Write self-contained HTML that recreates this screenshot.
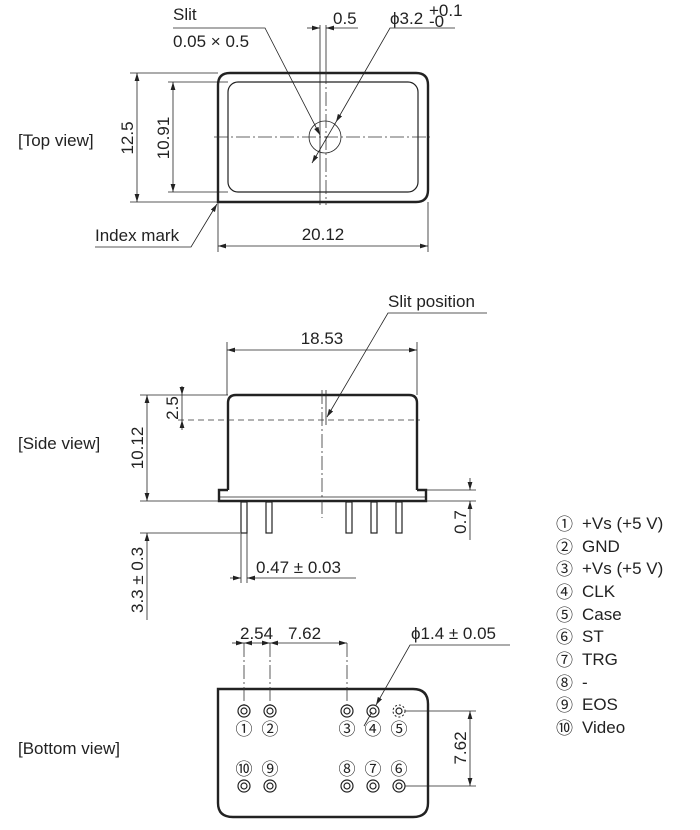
<!DOCTYPE html>
<html><head><meta charset="utf-8"><style>
body{margin:0;background:#fff}
svg{display:block}
text{font-family:"Liberation Sans","DejaVu Sans",sans-serif;fill:#222;font-size:17px}
.t{stroke:#222;stroke-width:0.8;fill:none}
.k{stroke:#222;stroke-width:2.4;fill:none}
.m{stroke:#222;stroke-width:1.2;fill:none}
.c{stroke:#333;stroke-width:0.8;fill:none;stroke-dasharray:14 3 2 3}
.d{stroke:#333;stroke-width:0.8;fill:none;stroke-dasharray:6 4}
.n text{font-family:"Noto Sans CJK JP","Noto Sans CJK SC",sans-serif;font-size:17px}
</style></head><body>
<svg width="700" height="830" viewBox="0 0 700 830" xmlns="http://www.w3.org/2000/svg">
<defs>
<marker id="a" viewBox="0 0 10 10" refX="10" refY="5" markerWidth="8" markerHeight="8" orient="auto-start-reverse" markerUnits="userSpaceOnUse"><path d="M0,2 L10,5 L0,8 z" fill="#222"/></marker>
</defs>

<!-- TOP VIEW -->
<text x="18" y="146" font-size="18">[Top view]</text>
<path class="k" d="M218,202 L218,85 Q218,73 230,73 L416,73 Q428,73 428,85 L428,190 Q428,202 416,202 Z"/>
<rect class="m" x="228" y="82" width="190" height="110" rx="10"/>
<circle class="t" cx="325" cy="137" r="16"/>
<line class="c" x1="214" y1="137" x2="430" y2="137"/>
<line class="t" x1="320" y1="25" x2="320" y2="205"/>
<line class="t" x1="326" y1="25" x2="326" y2="70"/>
<line class="c" x1="326" y1="70" x2="326" y2="205"/>
<line class="t" x1="130" y1="73" x2="218" y2="73"/>
<line class="t" x1="130" y1="202" x2="218" y2="202"/>
<line class="t" x1="137" y1="73" x2="137" y2="202" marker-start="url(#a)" marker-end="url(#a)"/>
<text transform="translate(133,138) rotate(-90)" text-anchor="middle">12.5</text>
<line class="t" x1="168" y1="82" x2="228" y2="82"/>
<line class="t" x1="168" y1="192" x2="228" y2="192"/>
<line class="t" x1="173" y1="82" x2="173" y2="192" marker-start="url(#a)" marker-end="url(#a)"/>
<text transform="translate(169,138) rotate(-90)" text-anchor="middle">10.91</text>
<line class="t" x1="218" y1="202" x2="218" y2="252"/>
<line class="t" x1="428" y1="202" x2="428" y2="252"/>
<line class="t" x1="218" y1="246" x2="428" y2="246" marker-start="url(#a)" marker-end="url(#a)"/>
<text x="323" y="240" text-anchor="middle">20.12</text>
<text x="95" y="241">Index mark</text>
<polyline class="t" points="95,247 191,247 217,204" marker-end="url(#a)"/>
<text x="173" y="20">Slit</text>
<text x="173" y="47">0.05 × 0.5</text>
<polyline class="t" points="173,28 265,28 320,135" marker-end="url(#a)"/>
<line class="t" x1="307" y1="28" x2="320" y2="28" marker-end="url(#a)"/>
<line class="t" x1="358" y1="28" x2="326" y2="28" marker-end="url(#a)"/>
<text x="333" y="24">0.5</text>
<text x="390" y="24">ϕ3.2</text><text x="429" y="16" font-size="10">+0.1</text><text x="429" y="27" font-size="10">-0</text>
<polyline class="t" points="455,28 390,28 336,122" marker-end="url(#a)"/>
<line class="t" x1="336" y1="122" x2="312" y2="163" marker-end="url(#a)"/>

<!-- SIDE VIEW -->
<text x="18" y="449" font-size="18">[Side view]</text>
<path class="k" d="M228,490 L228,403 Q228,395 236,395 L409,395 Q417,395 417,403 L417,490"/>
<path class="k" d="M228,490 L219,490 L219,501 L426,501 L426,490 L417,490"/>
<line class="t" x1="219" y1="497" x2="426" y2="497"/>
<g class="m">
<rect x="241" y="502" width="6" height="31"/>
<rect x="266" y="502" width="6" height="31"/>
<rect x="346" y="502" width="6" height="31"/>
<rect x="371" y="502" width="6" height="31"/>
<rect x="396" y="502" width="6" height="31"/>
</g>
<line class="c" x1="322" y1="390" x2="322" y2="518"/>
<line class="t" x1="326" y1="390" x2="326" y2="425"/>
<line class="d" x1="178" y1="420" x2="420" y2="420"/>
<line class="t" x1="227" y1="342" x2="227" y2="395"/>
<line class="t" x1="417" y1="342" x2="417" y2="395"/>
<line class="t" x1="227" y1="350" x2="417" y2="350" marker-start="url(#a)" marker-end="url(#a)"/>
<text x="322" y="344" text-anchor="middle">18.53</text>
<text x="388" y="307">Slit position</text>
<polyline class="t" points="487,313 388,313 327,417" marker-end="url(#a)"/>
<line class="t" x1="140" y1="395" x2="228" y2="395"/>
<line class="t" x1="140" y1="501" x2="219" y2="501"/>
<line class="t" x1="426" y1="501" x2="476" y2="501"/>
<line class="t" x1="426" y1="490" x2="476" y2="490"/>
<line class="t" x1="147" y1="395" x2="147" y2="501" marker-start="url(#a)" marker-end="url(#a)"/>
<text transform="translate(143,448) rotate(-90)" text-anchor="middle">10.12</text>
<line class="t" x1="182" y1="386" x2="182" y2="395" marker-end="url(#a)"/>
<line class="t" x1="182" y1="430" x2="182" y2="420" marker-end="url(#a)"/>
<line class="t" x1="182" y1="395" x2="182" y2="420"/>
<text transform="translate(178,408) rotate(-90)" text-anchor="middle" font-size="16">2.5</text>
<line class="t" x1="470" y1="478" x2="470" y2="490" marker-end="url(#a)"/>
<line class="t" x1="470" y1="540" x2="470" y2="501" marker-end="url(#a)"/>
<text transform="translate(466,522) rotate(-90)" text-anchor="middle">0.7</text>
<line class="t" x1="140" y1="533" x2="240" y2="533"/>
<line class="t" x1="147" y1="620" x2="147" y2="533" marker-end="url(#a)"/>
<text transform="translate(143,580) rotate(-90)" text-anchor="middle">3.3 ± 0.3</text>
<line class="t" x1="241" y1="533" x2="241" y2="583"/>
<line class="t" x1="247" y1="533" x2="247" y2="583"/>
<line class="t" x1="230" y1="578" x2="241" y2="578" marker-end="url(#a)"/>
<line class="t" x1="356" y1="578" x2="247" y2="578" marker-end="url(#a)"/>
<text x="256" y="573">0.47 ± 0.03</text>

<!-- BOTTOM VIEW -->
<text x="18" y="754" font-size="18">[Bottom view]</text>
<path class="k" d="M218,689 L413,689 Q428,689 428,704 L428,803 Q428,817 413,817 L233,817 Q218,817 218,803 Z"/>
<line class="c" x1="244" y1="643" x2="244" y2="705"/>
<line class="c" x1="270" y1="643" x2="270" y2="705"/>
<line class="c" x1="347" y1="643" x2="347" y2="705"/>
<line class="t" x1="232" y1="643" x2="244" y2="643" marker-end="url(#a)"/>
<line class="t" x1="257" y1="643" x2="244" y2="643" marker-end="url(#a)"/>
<line class="t" x1="257" y1="643" x2="270" y2="643" marker-end="url(#a)"/>
<line class="t" x1="270" y1="643" x2="347" y2="643" marker-start="url(#a)" marker-end="url(#a)"/>
<text x="240" y="639">2.54</text>
<text x="288" y="639">7.62</text>
<text x="411" y="639">ϕ1.4 ± 0.05</text>
<polyline class="t" points="510,645 410,645 376,705" marker-end="url(#a)"/>
<line class="t" x1="372" y1="712" x2="364" y2="726"/>
<g class="m">
<circle cx="244" cy="711" r="6"/><circle cx="244" cy="711" r="3"/>
<circle cx="270" cy="711" r="6"/><circle cx="270" cy="711" r="3"/>
<circle cx="347" cy="711" r="6"/><circle cx="347" cy="711" r="3"/>
<circle cx="373" cy="711" r="6"/><circle cx="373" cy="711" r="3"/>
<circle cx="399" cy="711" r="3"/>
<circle cx="244" cy="786" r="6"/><circle cx="244" cy="786" r="3"/>
<circle cx="270" cy="786" r="6"/><circle cx="270" cy="786" r="3"/>
<circle cx="347" cy="786" r="6"/><circle cx="347" cy="786" r="3"/>
<circle cx="373" cy="786" r="6"/><circle cx="373" cy="786" r="3"/>
<circle cx="399" cy="786" r="6"/><circle cx="399" cy="786" r="3"/>
</g>
<circle cx="399" cy="711" r="6" fill="none" stroke="#222" stroke-width="1" stroke-dasharray="2 2"/>
<g class="n" text-anchor="middle">
<text x="244" y="735">①</text><text x="270" y="735">②</text><text x="347" y="735">③</text><text x="373" y="735">④</text><text x="399" y="735">⑤</text>
<text x="244" y="775">⑩</text><text x="270" y="775">⑨</text><text x="347" y="775">⑧</text><text x="373" y="775">⑦</text><text x="399" y="775">⑥</text>
</g>
<line class="t" x1="405" y1="711" x2="476" y2="711"/>
<line class="t" x1="405" y1="786" x2="476" y2="786"/>
<line class="t" x1="470" y1="711" x2="470" y2="786" marker-start="url(#a)" marker-end="url(#a)"/>
<text transform="translate(466,748) rotate(-90)" text-anchor="middle">7.62</text>

<!-- LEGEND -->
<g class="n">
<text x="556" y="530">①</text>
<text x="556" y="553">②</text>
<text x="556" y="575">③</text>
<text x="556" y="598">④</text>
<text x="556" y="621">⑤</text>
<text x="556" y="643">⑥</text>
<text x="556" y="666">⑦</text>
<text x="556" y="689">⑧</text>
<text x="556" y="711">⑨</text>
<text x="556" y="734">⑩</text>
</g>
<g>
<text x="582" y="529">+Vs (+5 V)</text>
<text x="582" y="552">GND</text>
<text x="582" y="574">+Vs (+5 V)</text>
<text x="582" y="597">CLK</text>
<text x="582" y="620">Case</text>
<text x="582" y="642">ST</text>
<text x="582" y="665">TRG</text>
<text x="582" y="688">-</text>
<text x="582" y="710">EOS</text>
<text x="582" y="733">Video</text>
</g>
</svg>
</body></html>
